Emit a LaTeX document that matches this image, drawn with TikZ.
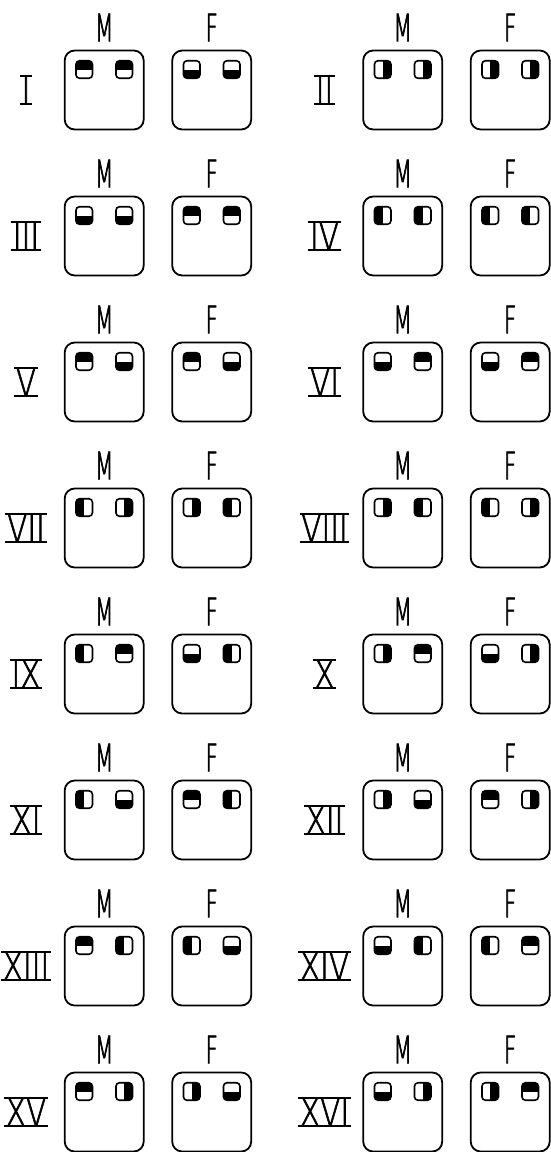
\documentclass[tikz,border=0pt]{standalone}
\usepackage{fontspec}
\usepackage{tikz}
\newfontfamily\sexfont[FakeStretch=0.56, FakeBold=1.6]{DejaVu Sans ExtraLight}
\newfontfamily\romfont[FakeStretch=0.78, FakeBold=1.6]{DejaVu Sans ExtraLight}

\begin{document}
\begin{tikzpicture}[x=1pt, y=-1pt,
  box/.style={draw=black, line width=1.8pt, rounded corners=10pt,
              minimum width=79pt, minimum height=79pt, inner sep=0},
  pin/.style={draw=black, line width=1.6pt, rounded corners=3.5pt,
              minimum width=16.5pt, minimum height=17.5pt, inner sep=0},
  pinT/.style={pin, path picture={\fill[sharp corners] (path picture bounding box.north west) rectangle (path picture bounding box.east);}},
  pinB/.style={pin, path picture={\fill[sharp corners] (path picture bounding box.south west) rectangle (path picture bounding box.east);}},
  pinL/.style={pin, path picture={\fill[sharp corners] (path picture bounding box.north west) rectangle (path picture bounding box.south);}},
  pinR/.style={pin, path picture={\fill[sharp corners] (path picture bounding box.north east) rectangle (path picture bounding box.south);}},
  sex/.style={font=\sexfont\fontsize{38}{40}\selectfont, inner sep=0},
  rom/.style={font=\romfont\fontsize{38}{40}\selectfont, inner xsep=1.5pt,
              inner ysep=0, text height=27.7pt, text depth=0pt},
  bar/.style={line width=1.8pt},
]
\useasboundingbox (0,0) rectangle (551,1152);
% numeral / male plug (left, right) / female plug (left, right)
\foreach \rn/\ml/\mr/\fl/\fr [count=\i from 0] in {
    I/T/T/B/B, II/R/R/R/R,
    III/B/B/T/T, IV/L/L/L/L,
    V/T/B/T/B, VI/B/T/B/T,
    VII/L/R/R/L, VIII/R/L/L/R,
    IX/L/T/B/L, X/R/T/B/R,
    XI/L/B/T/L, XII/R/B/T/R,
    XIII/T/L/L/B, XIV/B/L/L/T,
    XV/T/R/R/B, XVI/B/R/R/T} {
  \pgfmathsetmacro{\ox}{mod(\i,2)*298.5}
  \pgfmathsetmacro{\oy}{int(\i/2)*146}
  % ---- roman numeral with its top and bottom bars
  \node[rom] (r\i) at (26+\ox, 90+\oy) {\rn};
  \draw[bar] (r\i.north west) -- (r\i.north east)
             (r\i.south west) -- (r\i.south east);
  % ---- the two housings
  \node[box] (m\i) at (104.2+\ox, 90+\oy) {};
  \node[box] (f\i) at (211.7+\ox, 90+\oy) {};
  \node[sex] (mt\i) at (104.2+\ox, 27.5+\oy) {M};
  \node[sex] (ft\i) at (211.7+\ox, 27.5+\oy) {F};
  % ---- contacts
  \node[pin\ml] (ma\i) at (84.2+\ox, 69.5+\oy) {};
  \node[pin\mr] (mb\i) at (124.2+\ox, 69.5+\oy) {};
  \node[pin\fl] (fa\i) at (191.7+\ox, 69.5+\oy) {};
  \node[pin\fr] (fb\i) at (231.7+\ox, 69.5+\oy) {};
}
\end{tikzpicture}
\end{document}
